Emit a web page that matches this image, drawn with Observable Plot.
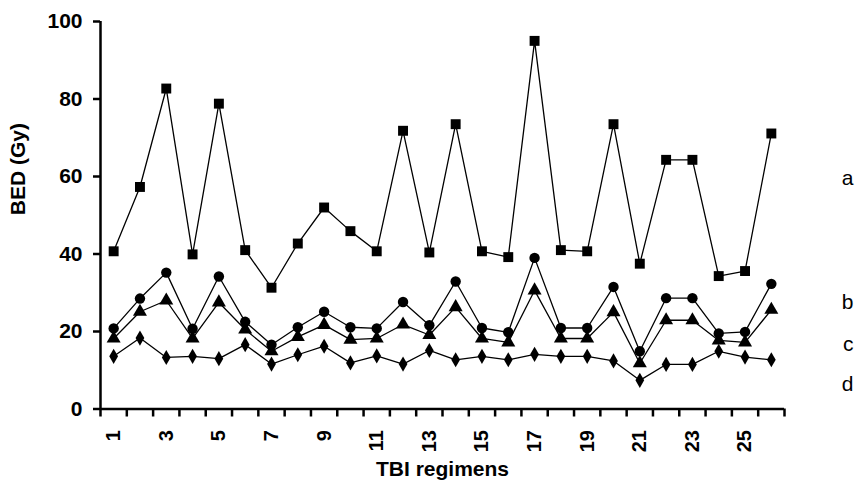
<!DOCTYPE html>
<html>
<head>
<meta charset="utf-8">
<script src="https://cdn.jsdelivr.net/npm/d3@7"></script>
<script src="https://cdn.jsdelivr.net/npm/@observablehq/plot@0.6"></script>
<style>
  html, body { margin: 0; padding: 0; background: #fff; }
  #chart svg text { font-family: 'Liberation Sans', Arial, sans-serif; }
  #chart svg g[aria-label="y-axis tick label"] text { font-size: 21px !important; font-weight: bold; }
  #chart svg g[aria-label="x-axis tick label"] text { font-size: 20px !important; font-weight: bold; }
</style>
</head>
<body>
<div id="chart"></div>
<script>
const regimens = [1,2,3,4,5,6,7,8,9,10,11,12,13,14,15,16,17,18,19,20,21,22,23,24,25,26];
const seriesA = [40.7,57.3,82.7,39.9,78.8,41.0,31.3,42.7,52.0,45.9,40.7,71.8,40.4,73.5,40.7,39.2,95.0,41.0,40.7,73.5,37.5,64.3,64.3,34.3,35.6,71.1];
const seriesB = [20.8,28.5,35.2,20.7,34.2,22.5,16.6,21.1,25.1,21.1,20.8,27.6,21.6,32.9,20.9,19.8,39.0,20.9,20.9,31.5,14.9,28.6,28.6,19.5,19.9,32.3];
const seriesC = [18.2,25.1,28.0,18.2,27.5,20.5,14.9,18.6,21.7,17.9,18.2,21.8,19.1,26.3,18.2,17.2,30.6,18.2,18.2,25.0,11.8,22.9,22.9,17.7,17.2,25.6];
const seriesD = [13.6,18.3,13.3,13.6,13.0,16.6,11.6,14.0,16.2,11.9,13.7,11.6,15.1,12.7,13.6,12.7,14.1,13.6,13.6,12.4,7.4,11.5,11.5,14.9,13.4,12.7];
const seriesNames = ["a", "b", "c", "d"];
const xTickLabels = [1,3,5,7,9,11,13,15,17,19,21,23,25];
const yTicks = [0,20,40,60,80,100];

const allValues = [seriesA, seriesB, seriesC, seriesD];
const symbols = ["square", "circle", "triangle", "diamond"];
const sizes = [5.6, 5.2, 5.2, 4.6];

const rows = [];
allValues.forEach((vals, s) => {
  vals.forEach((v, i) => rows.push({series: seriesNames[s], regimen: regimens[i], value: v}));
});

const bandEdges = d3.range(regimens.length + 1).map(i => regimens[0] - 0.5 + i);

const marks = [];
seriesNames.forEach((name, s) => {
  const data = rows.filter(r => r.series === name);
  marks.push(Plot.line(data, {x: "regimen", y: "value", stroke: "#000", strokeWidth: 1.3}));
  marks.push(Plot.dot(data, {x: "regimen", y: "value", symbol: () => symbols[s], r: sizes[s], fill: "#000", stroke: "none"}));
});

// legend letters at the right edge
const legendY = {a: 59.5, b: 27.5, c: 16.8, d: 6.5};

const chart = Plot.plot({
  width: 860,
  height: 486,
  marginLeft: 100,
  marginRight: 76,
  marginTop: 21,
  marginBottom: 77.5,
  style: {fontFamily: "'Liberation Sans', Arial, sans-serif", fontSize: "21px", fontWeight: "bold", color: "#000", background: "#fff"},
  symbol: {type: "identity"},
  x: {type: "linear", domain: [bandEdges[0], bandEdges[bandEdges.length - 1]]},
  y: {domain: [0, 100]},
  marks: [
    Plot.axisY(yTicks, {tickSize: 7, tickPadding: 11, strokeWidth: 2.5, fontSize: 21, label: null}),
    Plot.axisX(bandEdges, {tickSize: 8, strokeWidth: 2.5, tickFormat: () => "", label: null}),
    Plot.axisX(xTickLabels, {tickSize: 0, tickRotate: -90, tickPadding: 21, fontSize: 20, label: null}),
    Plot.ruleX([bandEdges[0]], {stroke: "#000", strokeWidth: 2.5}),
    Plot.ruleY([0], {stroke: "#000", strokeWidth: 2.5}),
    ...marks,
    Plot.text(seriesNames, {text: d => d, y: d => legendY[d], frameAnchor: "right", dx: 69, fontWeight: "normal", fontSize: 21}),
    Plot.text(["TBI regimens"], {frameAnchor: "bottom", dy: 67, fontSize: 21}),
    Plot.text(["BED (Gy)"], {frameAnchor: "left", dx: -82, rotate: -90, fontSize: 21})
  ]
});
document.getElementById("chart").appendChild(chart);
</script>
</body>
</html>
